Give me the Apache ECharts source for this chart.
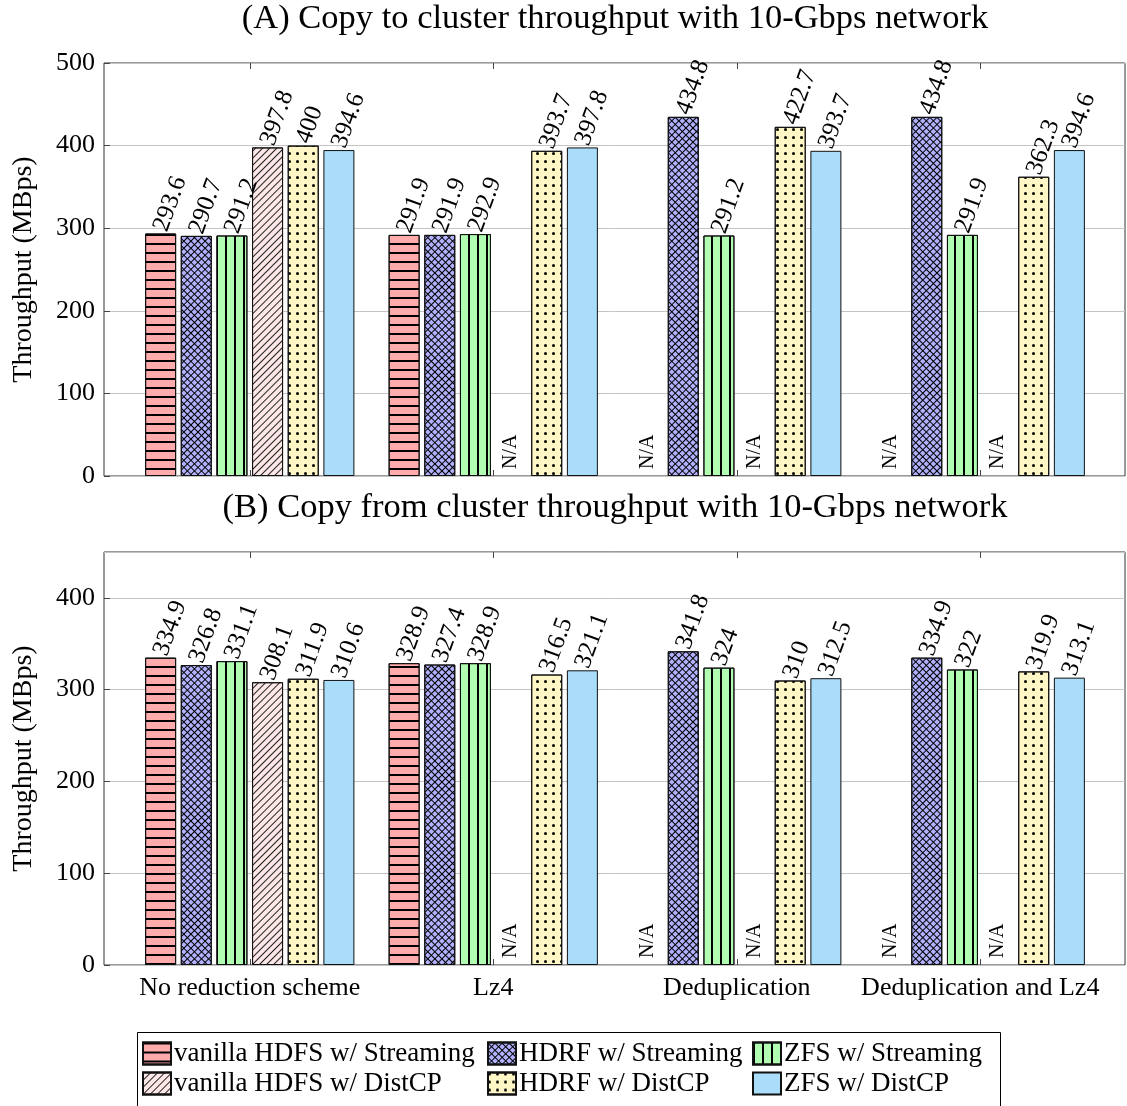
<!DOCTYPE html>
<html><head><meta charset="utf-8">
<script src="https://cdn.jsdelivr.net/npm/echarts@6/dist/echarts.min.js"></script>
<style>html,body{margin:0;padding:0;background:#fff}#c{width:1127px;height:1106px}</style>
</head><body><div id="c"></div>
<script>
const categories = ['No reduction scheme', 'Lz4', 'Deduplication', 'Deduplication and Lz4'];
const seriesNames = ['vanilla HDFS w/ Streaming', 'HDRF w/ Streaming', 'ZFS w/ Streaming',
                     'vanilla HDFS w/ DistCP', 'HDRF w/ DistCP', 'ZFS w/ DistCP'];
const titleA = '(A) Copy to cluster throughput with 10-Gbps network';
const titleB = '(B) Copy from cluster throughput with 10-Gbps network';
const yName = 'Throughput (MBps)';

// (A) copy to cluster, null = N/A
const toVanillaStreaming = [293.6, 291.9, null, null];
const toHdrfStreaming    = [290.7, 291.9, 434.8, 434.8];
const toZfsStreaming     = [291.2, 292.9, 291.2, 291.9];
const toVanillaDistcp    = [397.8, null, null, null];
const toHdrfDistcp       = [400, 393.7, 422.7, 362.3];
const toZfsDistcp        = [394.6, 397.8, 393.7, 394.6];

// (B) copy from cluster
const fromVanillaStreaming = [334.9, 328.9, null, null];
const fromHdrfStreaming    = [326.8, 327.4, 341.8, 334.9];
const fromZfsStreaming     = [331.1, 328.9, 324, 322];
const fromVanillaDistcp    = [308.1, null, null, null];
const fromHdrfDistcp       = [311.9, 316.5, 310, 319.9];
const fromZfsDistcp        = [310.6, 321.1, 312.5, 313.1];

const FONT = '"Liberation Serif", "Times New Roman", serif';
const fills = ['#ffabab', '#b1b1fd', '#b1fdb1', '#fde7e7', '#fff7c6', '#a9ddf9'];
const decals = [
  {symbol: 'rect', symbolSize: 1, dashArrayX: [1, 0], dashArrayY: [1.3, 6.5], color: '#000'},
  {symbol: 'rect', symbolSize: 1, dashArrayX: [[4.5, 0], [1, 3.5]], dashArrayY: [1, 0, 3.5, 0], rotation: Math.PI / 4, color: '#000'},
  {symbol: 'rect', symbolSize: 1, dashArrayX: [1.3, 6.4], dashArrayY: [1, 0], color: '#000'},
  {symbol: 'rect', symbolSize: 1, dashArrayX: [1, 0], dashArrayY: [0.9, 4], rotation: -Math.PI / 4, color: '#222'},
  {symbol: 'circle', symbolSize: 1, dashArrayX: [2.6, 4.7], dashArrayY: [2.6, 4.7], color: '#000'},
  null
];

function makeSeries(values, idx, xi, yi) {
  const itemStyle = {color: fills[idx], borderColor: '#111', borderWidth: 1};
  if (decals[idx]) itemStyle.decal = decals[idx];
  return {
    type: 'bar', name: seriesNames[idx], xAxisIndex: xi, yAxisIndex: yi,
    barWidth: 31, barGap: '15%',
    itemStyle: itemStyle,
    emphasis: {disabled: true},
    label: {show: true, position: 'top', rotate: 70, align: 'left', verticalAlign: 'middle',
            distance: 3, fontFamily: FONT, fontSize: 25, color: '#000',
            formatter: p => String(p.value)},
    data: values.map(v => v === null ? {
      value: 0,
      itemStyle: {color: 'rgba(0,0,0,0)', borderWidth: 0},
      label: {formatter: 'N/A', rotate: 90, fontSize: 20, distance: 7}
    } : v)
  };
}

const groupsA = [toVanillaStreaming, toHdrfStreaming, toZfsStreaming, toVanillaDistcp, toHdrfDistcp, toZfsDistcp];
const groupsB = [fromVanillaStreaming, fromHdrfStreaming, fromZfsStreaming, fromVanillaDistcp, fromHdrfDistcp, fromZfsDistcp];

const tickStyle = {show: true, inside: true, alignWithLabel: true, length: 6, lineStyle: {color: '#444'}};
function catAxis(grid, pos, showLabel) {
  return {gridIndex: grid, type: 'category', position: pos, data: categories,
    axisLine: {show: false}, axisTick: Object.assign({interval: 0}, tickStyle), splitLine: {show: false},
    axisLabel: {show: showLabel, interval: 0, fontFamily: FONT, fontSize: 26, color: '#000', margin: 10}};
}
function frameY(grid, max) {
  return {gridIndex: grid, type: 'value', min: 0, max: max, interval: 100,
    axisLine: {show: false}, axisTick: {show: true, inside: true, length: 6, lineStyle: {color: '#444'}},
    axisLabel: {fontFamily: FONT, fontSize: 26, color: '#000', margin: 9, showMaxLabel: max % 100 === 0},
    splitLine: {show: true, lineStyle: {color: '#c4c4c4', width: 1}},
    name: yName, nameLocation: 'middle', nameGap: 66,
    nameTextStyle: {fontFamily: FONT, fontSize: 28, color: '#000'}};
}

const chart = echarts.init(document.getElementById('c'), null, {renderer: 'canvas'});
chart.setOption({
  animation: false,
  backgroundColor: '#fff',
  grid: [
    {left: 104, top: 63, width: 1021, height: 413, show: true, borderColor: '#333', borderWidth: 1, outerBoundsMode: 'none'},
    {left: 128, top: 63, width: 974, height: 413, outerBoundsMode: 'none'},
    {left: 104, top: 552, width: 1021, height: 413, show: true, borderColor: '#333', borderWidth: 1, outerBoundsMode: 'none'},
    {left: 128, top: 552, width: 974, height: 413, outerBoundsMode: 'none'}
  ],
  xAxis: [
    {gridIndex: 0, type: 'value', show: false},
    catAxis(1, 'bottom', false),
    catAxis(1, 'top', false),
    {gridIndex: 2, type: 'value', show: false},
    catAxis(3, 'bottom', true),
    catAxis(3, 'top', false)
  ],
  yAxis: [
    frameY(0, 500),
    {gridIndex: 1, type: 'value', min: 0, max: 500, show: false},
    frameY(2, 450),
    {gridIndex: 3, type: 'value', min: 0, max: 450, show: false}
  ],
  legend: [0, 1, 2].map(c => ({
    orient: 'vertical', left: [142, 487, 752][c], top: 1040,
    itemWidth: 28, itemHeight: 22, itemGap: 3, icon: 'rect', padding: 0,
    selectedMode: false,
    textStyle: {fontFamily: FONT, fontSize: 27, color: '#000', padding: [0, 0, 0, -2]},
    data: [seriesNames[c], seriesNames[c + 3]]
  })),
  graphic: [
    {type: 'text', x: 615, y: 19, style: {text: titleA, fontFamily: FONT, fontSize: 34.5, fill: '#000', align: 'center', verticalAlign: 'middle', textAlign: 'center', textVerticalAlign: 'middle'}},
    {type: 'text', x: 615, y: 508, style: {text: titleB, fontFamily: FONT, fontSize: 34.5, fill: '#000', align: 'center', verticalAlign: 'middle', textAlign: 'center', textVerticalAlign: 'middle'}},
    {type: 'rect', shape: {x: 137.5, y: 1032.5, width: 863, height: 90}, style: {fill: 'none', stroke: '#000', lineWidth: 1}}
  ],
  series: [
    ...groupsA.map((vals, i) => makeSeries(vals, i, 1, 1)),
    ...groupsB.map((vals, i) => makeSeries(vals, i, 4, 3))
  ]
});
</script></body></html>
